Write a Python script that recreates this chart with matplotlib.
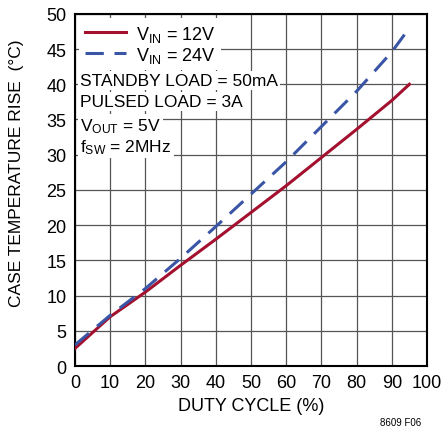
import matplotlib
matplotlib.use('Agg')
import matplotlib.pyplot as plt

duty = [0, 10, 20, 30, 40, 50, 60, 70, 80, 90, 95]
rise_12v = [2.5, 7.0, 10.5, 14.3, 18.0, 21.8, 25.6, 29.6, 33.6, 37.7, 40.0]
rise_24v = [3.0, 7.2, 11.0, 15.3, 19.8, 24.4, 29.0, 34.0, 39.0, 44.6, 48.0]
x_ticks = list(range(0, 101, 10))
y_ticks = list(range(0, 51, 5))
notes = ['STANDBY LOAD = 50mA', 'PULSED LOAD = 3A',
         r'V$_{\mathregular{OUT}}$ = 5V', r'f$_{\mathregular{SW}}$ = 2MHz']

plt.rcParams['font.family'] = ['Liberation Sans Narrow', 'Liberation Sans', 'DejaVu Sans']
plt.rcParams['mathtext.default'] = 'regular'

fig = plt.figure(figsize=(4.43, 4.35), dpi=100)
ax = fig.add_axes([0.169, 0.156, 0.795, 0.81])

ax.plot(duty, rise_12v, color='#a3112f', lw=2.2, label=r'V$_{\mathregular{IN}}$ = 12V', zorder=3)
ax.plot(duty, rise_24v, color='#3a55a6', lw=2.2, dashes=(6, 3.5), label=r'V$_{\mathregular{IN}}$ = 24V', zorder=3)

ax.set_xlim(0, 100)
ax.set_ylim(0, 50)
ax.set_xticks(x_ticks)
ax.set_yticks(y_ticks)
ax.tick_params(length=0, labelsize=13, pad=6)
ax.grid(True, color='#555555', lw=0.9)
ax.set_axisbelow(True)
for s in ax.spines.values():
    s.set_linewidth(1.5)
    s.set_color('black')

ax.set_xlabel('DUTY CYCLE (%)', fontsize=13, labelpad=4)
ax.set_ylabel('CASE TEMPERATURE RISE  (°C)', fontsize=12.5, labelpad=6)
ax.yaxis.set_label_coords(-0.145, 0.55)

leg = ax.legend(loc='upper left', fontsize=13, frameon=True, handlelength=2.3,
                borderaxespad=0.25, labelspacing=0.05, handletextpad=0.55,
                borderpad=0.3, fancybox=False)
leg.get_frame().set_edgecolor('none')
leg.get_frame().set_facecolor('white')
leg.get_frame().set_alpha(1)
leg.set_zorder(5)

ypos = [0.81, 0.752, 0.683, 0.624]
for t, yy in zip(notes, ypos):
    ax.text(0.015, yy, t, transform=ax.transAxes, fontsize=12.5, va='center', ha='left',
            bbox=dict(facecolor='white', edgecolor='none', pad=1.5), zorder=6)

fig.text(0.905, 0.027, '8609 F06', fontsize=7, ha='center', va='center')

fig.savefig('out.png', dpi=100)
